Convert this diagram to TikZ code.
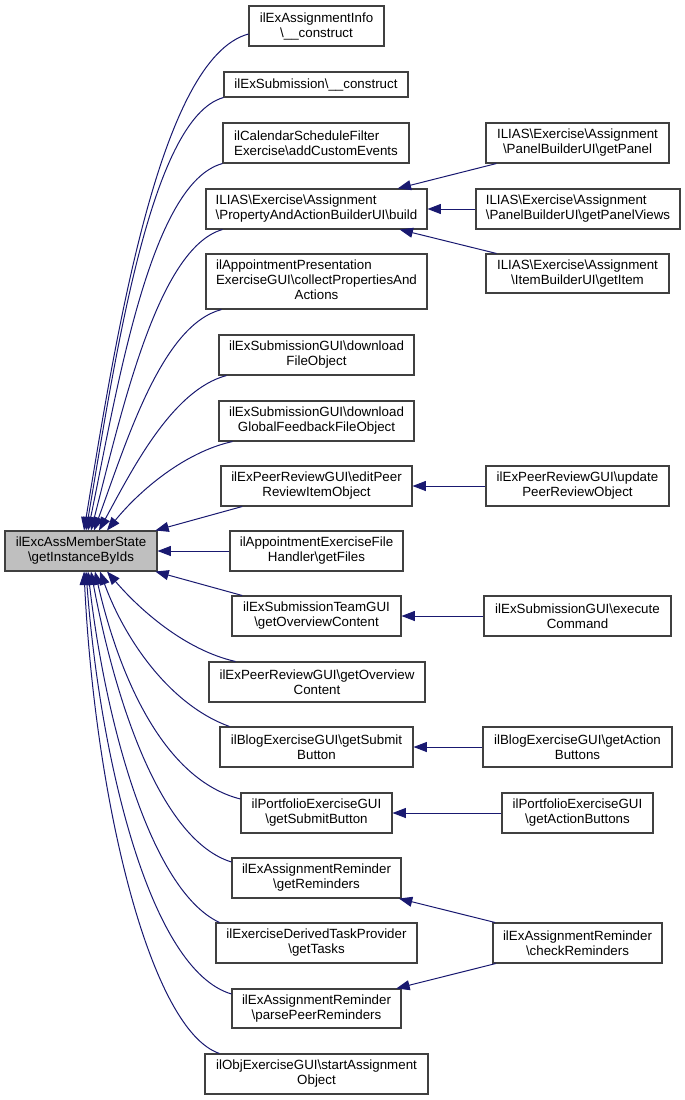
\documentclass[tikz,border=0pt]{standalone}
\usepackage{fontspec}
\setmainfont{Liberation Sans}
\usetikzlibrary{arrows.meta,calc}
\newcommand{\bsl}{\textbackslash}
\definecolor{edgec}{HTML}{191970}
\definecolor{boxc}{HTML}{404040}
\definecolor{rootc}{HTML}{BFBFBF}
\tikzset{
  box/.style={draw=boxc, line width=0.8pt, fill=white, inner sep=0pt, align=center,
    font=\fontsize{10}{11.25}\selectfont},
  wh/.style 2 args={minimum width=#1*0.75pt, minimum height=#2*0.75pt},
  edge/.style={draw=edgec, line width=0.75pt, {Triangle[length=10pt,width=7.5pt]}-},
}
\begin{document}
\begin{tikzpicture}[x=0.75pt,y=-0.75pt]
\useasboundingbox (0,0) rectangle (685,1100);
% root
\node[box, wh={152}{40}, fill=rootc] (root) at (81,551) {ilExcAssMemberState\\\bsl getInstanceByIds};
% column 1
\node[box, wh={135}{40}] (n1) at (316.5,26) {ilExAssignmentInfo\\\bsl\_\_construct};
\node[box, wh={184}{25}] (n2) at (316,84.5) {ilExSubmission\bsl\_\_construct};
\node[box, wh={186}{40}, align=left] (n3) at (316,143) {ilCalendarScheduleFilter\\Exercise\bsl addCustomEvents};
\node[box, wh={221}{40}, align=left] (n4) at (316.5,209) {ILIAS\bsl Exercise\bsl Assignment\\\bsl PropertyAndActionBuilderUI\bsl build};
\node[box, wh={221}{55}] (n5) at (316.5,281.5) {\begin{tabular}{@{}l@{}}ilAppointmentPresentation\\ExerciseGUI\bsl collectPropertiesAnd\\\multicolumn{1}{@{}c@{}}{Actions}\end{tabular}};
\node[box, wh={195}{40}] (n6) at (316.5,355) {ilExSubmissionGUI\bsl download\\FileObject};
\node[box, wh={195}{40}] (n7) at (316.5,421) {ilExSubmissionGUI\bsl download\\GlobalFeedbackFileObject};
\node[box, wh={191}{40}] (n8) at (316.5,486) {ilExPeerReviewGUI\bsl editPeer\\ReviewItemObject};
\node[box, wh={173}{40}] (n9) at (316.5,551) {ilAppointmentExerciseFile\\Handler\bsl getFiles};
\node[box, wh={169}{40}] (n10) at (316.5,616) {ilExSubmissionTeamGUI\\\bsl getOverviewContent};
\node[box, wh={216}{40}] (n11) at (317,682) {ilExPeerReviewGUI\bsl getOverview\\Content};
\node[box, wh={193}{40}] (n12) at (316.5,747) {ilBlogExerciseGUI\bsl getSubmit\\Button};
\node[box, wh={151}{40}] (n13) at (316.5,813) {ilPortfolioExerciseGUI\\\bsl getSubmitButton};
\node[box, wh={169}{40}] (n14) at (316.5,878) {ilExAssignmentReminder\\\bsl getReminders};
\node[box, wh={201}{40}] (n15) at (316.5,943) {ilExerciseDerivedTaskProvider\\\bsl getTasks};
\node[box, wh={169}{39}] (n16) at (316.5,1008.5) {ilExAssignmentReminder\\\bsl parsePeerReminders};
\node[box, wh={223}{40}] (n17) at (316.5,1074) {ilObjExerciseGUI\bsl startAssignment\\Object};
% column 2
\node[box, wh={183}{40}] (m1) at (577.5,143) {ILIAS\bsl Exercise\bsl Assignment\\\bsl PanelBuilderUI\bsl getPanel};
\node[box, wh={204}{40}, align=left] (m2) at (578,209) {ILIAS\bsl Exercise\bsl Assignment\\\bsl PanelBuilderUI\bsl getPanelViews};
\node[box, wh={183}{39}] (m3) at (577.5,273.5) {ILIAS\bsl Exercise\bsl Assignment\\\bsl ItemBuilderUI\bsl getItem};
\node[box, wh={183}{40}] (m4) at (577.5,486) {ilExPeerReviewGUI\bsl update\\PeerReviewObject};
\node[box, wh={187}{40}] (m5) at (577.5,616) {ilExSubmissionGUI\bsl execute\\Command};
\node[box, wh={189}{40}] (m6) at (577.5,747) {ilBlogExerciseGUI\bsl getAction\\Buttons};
\node[box, wh={151}{40}] (m7) at (577.5,813) {ilPortfolioExerciseGUI\\\bsl getActionButtons};
\node[box, wh={169}{40}] (m8) at (577.5,943) {ilExAssignmentReminder\\\bsl checkReminders};
% straight edges
\draw[edge] (n4) -- (m1);
\draw[edge] (n4) -- (m2);
\draw[edge] (n4) -- (m3);
\draw[edge] (n8) -- (m4);
\draw[edge] (n10) -- (m5);
\draw[edge] (n12) -- (m6);
\draw[edge] (n13) -- (m7);
\draw[edge] (n14) -- (m8);
\draw[edge] (n16) -- (m8);
\draw[edge] (root) -- (n8);
\draw[edge] (root) -- (n9);
\draw[edge] (root) -- (n10);
% curved edges above
\draw[edge] ($(root.north)+(3,0)$) .. controls (117,330) and (160,58) .. ($(n1.west)+(0,8)$);
\draw[edge] ($(root.north)+(5,0)$) .. controls (115,360) and (150,118) .. (n2.south west);
\draw[edge] ($(root.north)+(7,0)$) .. controls (117,390) and (150,183) .. (n3.south west);
\draw[edge] ($(root.north)+(10,0)$) .. controls (122,410) and (158,248) .. ($(n4.south west)+(17,0)$);
\draw[edge] ($(root.north)+(13,0)$) .. controls (127,440) and (162,325) .. ($(n5.south west)+(16,0)$);
\draw[edge] ($(root.north)+(18,0)$) .. controls (132,470) and (172,390) .. ($(n6.south west)+(8,0)$);
\draw[edge] ($(root.north)+(26,0)$) .. controls (140,490) and (185,452) .. ($(n7.south west)+(14,0)$);
% curved edges below
\draw[edge] ($(root.south)+(26,0)$) .. controls (140,610) and (185,650) .. ($(n11.north west)+(27,0)$);
\draw[edge] ($(root.south)+(19,0)$) .. controls (125,640) and (170,705) .. ($(n12.north west)+(10,0)$);
\draw[edge] ($(root.south)+(14,0)$) .. controls (120,680) and (165,780) .. ($(n13.west)+(0,-14)$);
\draw[edge] ($(root.south)+(10,0)$) .. controls (115,700) and (160,840) .. ($(n14.west)+(0,-16)$);
\draw[edge] ($(root.south)+(7,0)$) .. controls (105,720) and (150,890) .. ($(n15.north west)+(4,0)$);
\draw[edge] ($(root.south)+(5,0)$) .. controls (100,760) and (150,970) .. ($(n16.west)+(0,-14.5)$);
\draw[edge] ($(root.south)+(3,0)$) .. controls (95,800) and (150,1030) .. ($(n17.north west)+(15,0)$);
\end{tikzpicture}
\end{document}
